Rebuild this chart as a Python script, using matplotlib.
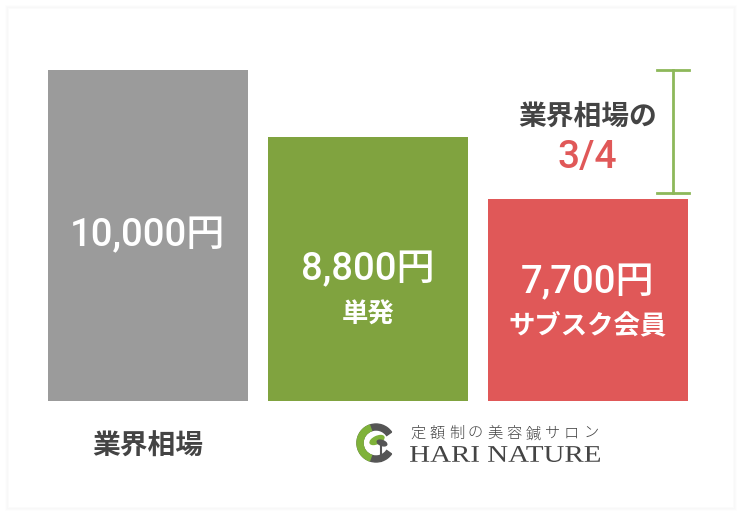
import numpy as np
from matplotlib import pyplot as plt
from matplotlib.patches import Rectangle, Wedge, Ellipse, PathPatch
from matplotlib.textpath import TextPath
from matplotlib.font_manager import FontProperties
from matplotlib.transforms import Affine2D

plt.rcParams['font.family'] = ['Noto Sans CJK JP', 'DejaVu Sans']
NUM_FONT = ['Roboto', 'Noto Sans CJK JP']

# data
categories = ['業界相場', '単発', 'サブスク会員']
prices = [10000, 8800, 7700]
price_labels = ['10,000円', '8,800円', '7,700円']
bar_colors = ['#9b9b9b', '#80a33f', '#e05858']
note_text = '業界相場の'
ratio_text = '3/4'
logo_jp = '定額制の美容鍼サロン'
logo_en = 'HARI NATURE'

W, H = 742, 516
fig = plt.figure(figsize=(W / 100, H / 100), dpi=100)
fig.patch.set_facecolor('white')

# card with faint shadow
for i, a in enumerate([0.008, 0.012, 0.016]):
    fig.patches.append(Rectangle(((6 + i) / W, (6 + i) / H), (730 - 2 * i) / W, (504 - 2 * i) / H,
                                 transform=fig.transFigure, facecolor='none',
                                 edgecolor=(0, 0, 0, a), lw=1.5, zorder=-2))
fig.patches.append(Rectangle((9 / W, 9 / H), 724 / W, 498 / H, zorder=-1,
                             transform=fig.transFigure, facecolor='white', edgecolor='none'))

ax = fig.add_axes([48 / W, 1 - 401 / H, 640 / W, 331 / H])
ymin = 4100
ax.set_xlim(-100 / 220, 2 + 100 / 220)
ax.set_ylim(ymin, 10000)
ax.axis('off')
ax.patch.set_alpha(0)

x = np.arange(len(prices))
ax.bar(x, np.array(prices) - ymin, bottom=ymin, width=200 / 220, color=bar_colors)

def px(y):
    return H - y

# labels inside bars
num_kw = dict(xycoords=('data', 'figure pixels'), ha='center', va='center',
              color='white', fontsize=27.5, family=NUM_FONT, fontweight='medium')
ax.annotate(price_labels[0], (x[0], px(236)), **num_kw)
ax.annotate(price_labels[1], (x[1], px(270)), **num_kw)
ax.annotate(price_labels[2], (x[2], px(283)), **num_kw)
ax.annotate(categories[1], (x[1], px(315)), xycoords=('data', 'figure pixels'),
            ha='center', va='center', color='white', fontsize=19, fontweight='bold')
ax.annotate(categories[2], (x[2], px(326)), xycoords=('data', 'figure pixels'),
            ha='center', va='center', color='white', fontsize=19, fontweight='bold')

# category below gray bar
ax.annotate(categories[0], (x[0], px(447)), xycoords=('data', 'figure pixels'),
            ha='center', va='center', color='#444444', fontsize=20, fontweight='bold',
            annotation_clip=False)

# bracket
vpp = (10000 - ymin) / 331
bx = 2 + 85 / 220
cap = 16 / 220
ytop = prices[0]
ybot = prices[2] + 6 * vpp
ax.plot([bx, bx], [ytop, ybot], color='#8db85a', lw=2, clip_on=False)
ax.plot([bx - cap, bx + cap], [ytop, ytop], color='#8db85a', lw=2, clip_on=False)
ax.plot([bx - cap, bx + cap], [ybot, ybot], color='#8db85a', lw=2, clip_on=False)

ax.annotate(note_text, (x[2], px(118)), xycoords=('data', 'figure pixels'),
            ha='center', va='center', color='#444444', fontsize=20, fontweight='bold')
ax.annotate(ratio_text, (x[2] - 1 / 220, px(157)), xycoords=('data', 'figure pixels'),
            ha='center', va='center', color='#e05858', fontsize=28, family=NUM_FONT,
            fontweight='medium')

# logo
lax = fig.add_axes([354 / W, 1 - 465 / H, 44 / W, 44 / H])
lax.set_xlim(-1.1, 1.1)
lax.set_ylim(-1.1, 1.1)
lax.set_aspect('equal')
lax.axis('off')
lax.add_patch(Wedge((0, 0), 0.95, 35, 325, width=0.3, color='#555555'))
lax.add_patch(Wedge((0, 0), 0.95, 110, 250, width=0.3, color='#7fb23a'))
lax.add_patch(Ellipse((0.05, 0.15), 0.75, 0.35, angle=25, color='#7fb23a'))
lax.add_patch(Ellipse((0.3, 0.0), 0.5, 0.25, angle=-20, color='#555555'))
lax.plot([0.25, 0.25], [-0.1, -0.9], color='#555555', lw=1.5)

for i, ch in enumerate(logo_jp):
    fig.text((418 + i * 19.2) / W, 1 - 434 / H, ch, ha='center', va='center',
             fontsize=11, color='#444444', fontweight='light')

# stretched serif wordmark, in pixel space
tp = TextPath((0, 0), logo_en, size=24, prop=FontProperties(family='Liberation Serif'))
ext = tp.get_extents()
sx = 190 / ext.width
sy = 16 / (ext.height)
tr = Affine2D().translate(-ext.x0, -ext.y0).scale(sx, sy).translate(410, H - 462)
fig.patches.append(PathPatch(tr.transform_path(tp), transform=None,
                             facecolor='#444444', edgecolor='none'))

fig.savefig('out.png', dpi=100)
